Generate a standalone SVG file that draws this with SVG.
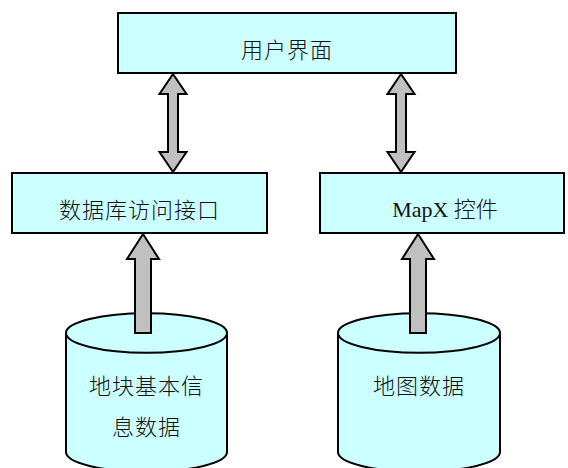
<svg xmlns="http://www.w3.org/2000/svg" width="568" height="468" viewBox="0 0 568 468">
<style>
.box{fill:#CCFFFF;stroke:#000;stroke-width:2}
.arr{fill:#C0C0C0;stroke:#000;stroke-width:2;stroke-linejoin:miter}
.t{font-family:"Noto Sans CJK SC",sans-serif;font-size:22px;font-weight:300;fill:#111;text-anchor:middle;letter-spacing:1px}
.m{font-family:"Liberation Serif","Noto Sans CJK SC",serif;font-size:22px;fill:#111;text-anchor:middle}
</style>
<rect width="568" height="468" fill="#fff"/>
<g id="ui">
<rect class="box" x="118" y="13" width="338" height="60"/>
<text class="t" x="287" y="58">用户界面</text>
</g>
<g id="dbapi">
<rect class="box" x="12" y="173" width="255" height="60"/>
<text class="t" x="139.5" y="218">数据库访问接口</text>
</g>
<g id="mapx">
<rect class="box" x="320" y="173" width="244" height="60"/>
<text class="m" x="445" y="217">MapX <tspan font-family="Noto Sans CJK SC, sans-serif" font-weight="300">控件</tspan></text>
</g>
<g id="db1">
<path class="box" d="M66 333 L66 452 A80.5 19.7 0 0 0 227 452 L227 333 Z"/>
<ellipse class="box" cx="146.5" cy="333" rx="80.5" ry="19.7"/>
<text class="t" x="146.5" y="394">地块基本信</text>
<text class="t" x="146.5" y="435">息数据</text>
</g>
<g id="db2">
<path class="box" d="M338 333 L338 452 A81 19.7 0 0 0 500 452 L500 333 Z"/>
<ellipse class="box" cx="419" cy="333" rx="81" ry="19.7"/>
<text class="t" x="419" y="394">地图数据</text>
</g>
<g id="connectors">
<polygon class="arr" points="173,74 186.5,94 178,94 178,152 186.5,152 173,172 159.5,152 168,152 168,94 159.5,94"/>
<polygon class="arr" points="401,74 414.5,94 406,94 406,152 414.5,152 401,172 387.5,152 396,152 396,94 387.5,94"/>
<polygon class="arr" points="143,234 159,259 151,259 151,333 135,333 135,259 127,259"/>
<polygon class="arr" points="418,234 434,259 426,259 426,333 410,333 410,259 402,259"/>
</g>
</svg>
